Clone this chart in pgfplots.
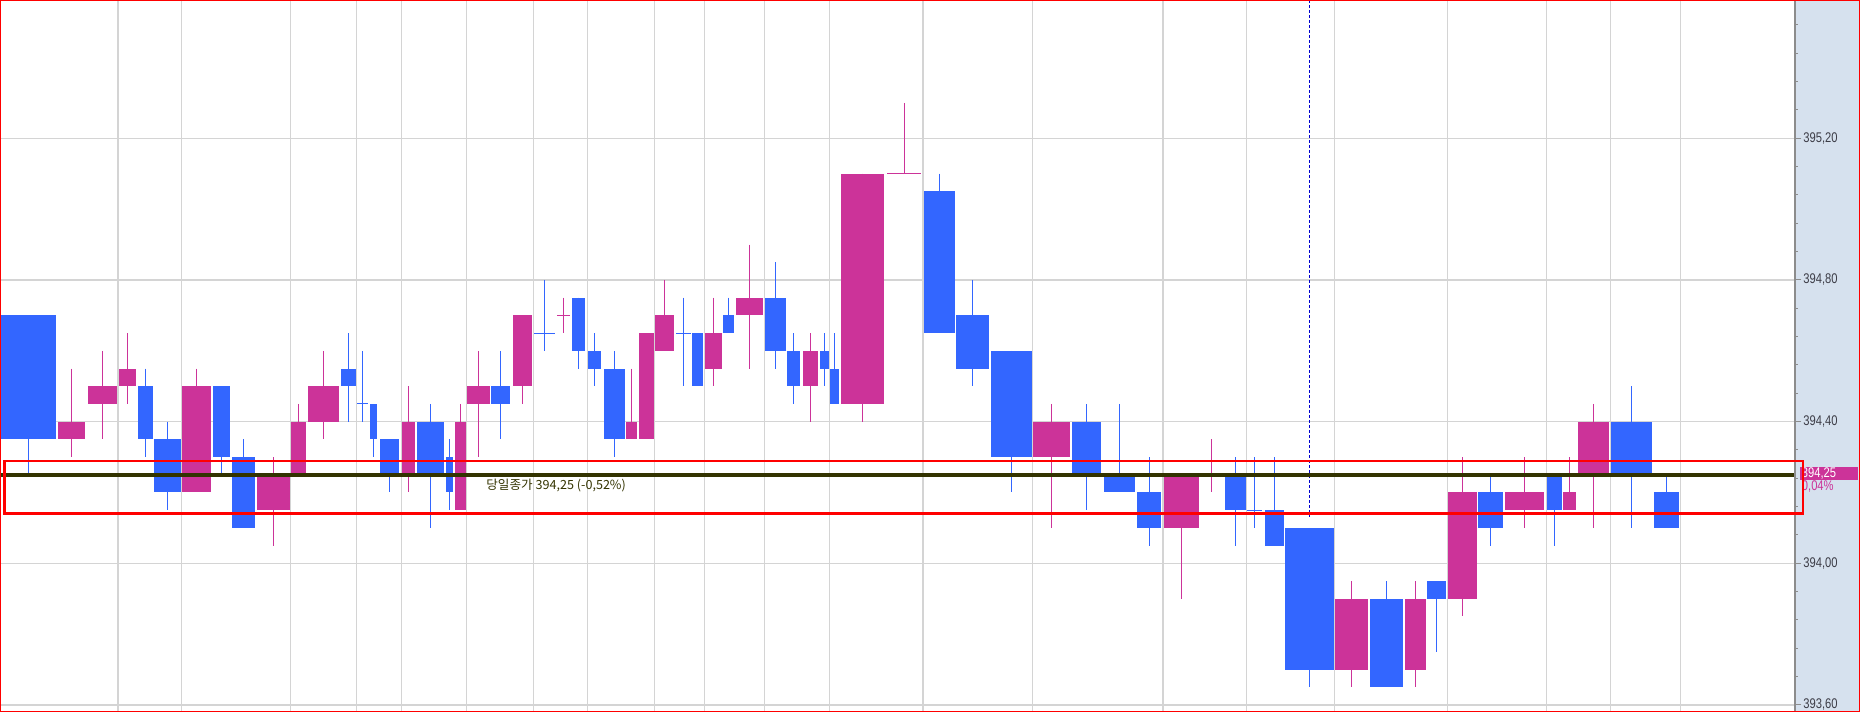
\documentclass[border=0pt]{standalone}
\usepackage{pgfplots}
\pgfplotsset{compat=1.18}
\usepackage{fontspec}
\setmainfont{Liberation Sans}
\newfontfamily\ticknarrow[FakeStretch=0.8]{Liberation Sans}
\newfontfamily\kr{Noto Sans CJK KR}
\definecolor{cblue}{HTML}{3366FF}
\definecolor{cmag}{HTML}{CC3399}
\definecolor{gridc}{HTML}{D4D4D4}
\definecolor{panel}{HTML}{D6E1EE}
\definecolor{olive}{HTML}{333300}
\definecolor{tickc}{HTML}{8C8C8C}
\definecolor{labc}{HTML}{3C3C46}
\definecolor{dotblue}{HTML}{0000CC}

% xl xr open close high low color
\newcommand\candle[7]{%
  \pgfmathsetmacro\candlexm{(#1+#2)/2}%
  \edef\candletmp{\noexpand\addplot[draw=#7, line width=0.5pt, forget plot] coordinates {(\candlexm,#5) (\candlexm,#6)};}\candletmp
  \addplot[fill=#7, draw=none, forget plot] coordinates {(#1,#3) (#2,#3) (#2,#4) (#1,#4)};
}
% xl xr price high low color
\newcommand\doji[6]{%
  \pgfmathsetmacro\candlexm{(#1+#2)/2}%
  \edef\candletmp{\noexpand\addplot[draw=#6, line width=0.5pt, forget plot] coordinates {(\candlexm,#4) (\candlexm,#5)};}\candletmp
  \addplot[draw=#6, line width=0.5pt, forget plot] coordinates {(#1,#3) (#2,#3)};
}

\begin{document}
\begin{tikzpicture}
\fill[panel] (897.5pt,0pt) rectangle (930pt,356pt);
\begin{axis}[
  at={(0,0)}, anchor=south west,
  scale only axis, width=897.5pt, height=356pt,
  xmin=0, xmax=1795, ymin=393.5802, ymax=395.5905,
  axis y line*=right,
  axis x line*=bottom,
  x axis line style={draw=none},
  y axis line style={tickc, line width=0.6pt},
  clip=false,
  xtick={118,181.3,290.3,356.7,401.3,466.3,533.3,587.3,654.3,704.3,764.3,829.3,923,1032.6,1163,1246.7,1334.3,1447.3,1546.3,1610.3,1680.3},
  xticklabels={}, xmajorticks=false,
  xmajorgrids, ymajorgrids,
  major grid style={gridc, line width=0.6pt},
  ytick={393.6,394.0,394.4,394.8,395.2},
  yticklabels={{393,60},{394,00},{394,40},{394,80},{395,20}},
  minor ytick={393.68,393.76,393.84,393.92,394.08,394.16,394.24,394.32,394.48,394.56,394.64,394.72,394.88,394.96,395.04,395.12,395.28,395.36,395.44,395.52},
  ytick align=outside,
  major tick length=3.2pt, minor tick length=1.4pt,
  tick style={tickc, line width=0.5pt},
  yticklabel style={font=\ticknarrow\fontsize{7}{8}\selectfont, text=labc, inner sep=0pt, anchor=west, xshift=0.8pt},
]
\candle{0}{56}{394.70}{394.35}{394.70}{394.25}{cblue}
\candle{58}{85}{394.35}{394.40}{394.55}{394.30}{cmag}
\candle{88}{117}{394.45}{394.50}{394.60}{394.35}{cmag}
\candle{119}{136}{394.50}{394.55}{394.65}{394.45}{cmag}
\candle{138}{153}{394.50}{394.35}{394.55}{394.30}{cblue}
\candle{154}{181}{394.35}{394.20}{394.40}{394.15}{cblue}
\candle{182}{211}{394.20}{394.50}{394.55}{394.20}{cmag}
\candle{213}{230}{394.50}{394.30}{394.50}{394.25}{cblue}
\candle{232}{255}{394.30}{394.10}{394.35}{394.10}{cblue}
\candle{257}{290}{394.15}{394.25}{394.30}{394.05}{cmag}
\candle{291}{306}{394.25}{394.40}{394.45}{394.25}{cmag}
\candle{308}{339}{394.40}{394.50}{394.60}{394.35}{cmag}
\candle{341}{356}{394.55}{394.50}{394.65}{394.40}{cblue}
\doji{357}{368}{394.45}{394.60}{394.40}{cblue}
\candle{370}{377}{394.45}{394.35}{394.45}{394.30}{cblue}
\candle{380}{399}{394.35}{394.25}{394.35}{394.20}{cblue}
\candle{402}{415}{394.25}{394.40}{394.50}{394.20}{cmag}
\candle{417}{444}{394.40}{394.25}{394.45}{394.10}{cblue}
\candle{446}{453}{394.30}{394.20}{394.35}{394.15}{cblue}
\candle{455}{466}{394.15}{394.40}{394.45}{394.15}{cmag}
\candle{467}{490}{394.45}{394.50}{394.60}{394.30}{cmag}
\candle{491}{510}{394.50}{394.45}{394.60}{394.35}{cblue}
\candle{513}{532}{394.50}{394.70}{394.70}{394.45}{cmag}
\doji{534}{555}{394.65}{394.80}{394.60}{cblue}
\doji{557}{570}{394.70}{394.75}{394.65}{cmag}
\candle{572}{585}{394.75}{394.60}{394.75}{394.55}{cblue}
\candle{588}{601}{394.60}{394.55}{394.65}{394.50}{cblue}
\candle{604}{625}{394.55}{394.35}{394.60}{394.30}{cblue}
\candle{626}{637}{394.35}{394.40}{394.55}{394.35}{cmag}
\candle{639}{654}{394.35}{394.65}{394.65}{394.35}{cmag}
\candle{655}{674}{394.60}{394.70}{394.80}{394.60}{cmag}
\doji{676}{691}{394.65}{394.75}{394.50}{cblue}
\candle{692}{703}{394.65}{394.50}{394.65}{394.50}{cblue}
\candle{705}{722}{394.55}{394.65}{394.75}{394.50}{cmag}
\candle{723}{734}{394.70}{394.65}{394.75}{394.65}{cblue}
\candle{736}{763}{394.70}{394.75}{394.90}{394.55}{cmag}
\candle{765}{786}{394.75}{394.60}{394.85}{394.55}{cblue}
\candle{787}{800}{394.60}{394.50}{394.65}{394.45}{cblue}
\candle{803}{818}{394.50}{394.60}{394.65}{394.40}{cmag}
\candle{820}{829}{394.60}{394.55}{394.65}{394.50}{cblue}
\candle{830}{839}{394.55}{394.45}{394.65}{394.45}{cblue}
\candle{841}{884}{394.45}{395.10}{395.10}{394.40}{cmag}
\doji{887}{921}{395.10}{395.30}{395.10}{cmag}
\candle{924}{955}{395.05}{394.65}{395.10}{394.65}{cblue}
\candle{956}{989}{394.70}{394.55}{394.80}{394.50}{cblue}
\candle{991}{1032}{394.60}{394.30}{394.60}{394.20}{cblue}
\candle{1033}{1070}{394.30}{394.40}{394.45}{394.10}{cmag}
\candle{1072}{1101}{394.40}{394.25}{394.45}{394.15}{cblue}
\candle{1104}{1135}{394.25}{394.20}{394.45}{394.20}{cblue}
\candle{1137}{1161}{394.20}{394.10}{394.30}{394.05}{cblue}
\candle{1164}{1199}{394.10}{394.25}{394.25}{393.90}{cmag}
\doji{1204}{1218}{394.25}{394.35}{394.20}{cmag}
\candle{1225}{1246}{394.25}{394.15}{394.30}{394.05}{cblue}
\doji{1247}{1262}{394.15}{394.30}{394.10}{cblue}
\candle{1265}{1284}{394.15}{394.05}{394.30}{394.05}{cblue}
\candle{1285}{1334}{394.10}{393.70}{394.10}{393.65}{cblue}
\candle{1335}{1368}{393.70}{393.90}{393.95}{393.65}{cmag}
\candle{1370}{1403}{393.90}{393.65}{393.95}{393.65}{cblue}
\candle{1405}{1426}{393.70}{393.90}{393.95}{393.65}{cmag}
\candle{1427}{1446}{393.95}{393.90}{393.95}{393.75}{cblue}
\candle{1448}{1477}{393.90}{394.20}{394.30}{393.85}{cmag}
\candle{1478}{1503}{394.20}{394.10}{394.25}{394.05}{cblue}
\candle{1505}{1544}{394.15}{394.20}{394.30}{394.10}{cmag}
\candle{1547}{1562}{394.25}{394.15}{394.25}{394.05}{cblue}
\candle{1563}{1576}{394.15}{394.20}{394.30}{394.15}{cmag}
\candle{1578}{1609}{394.25}{394.40}{394.45}{394.10}{cmag}
\candle{1611}{1652}{394.40}{394.25}{394.50}{394.10}{cblue}
\candle{1654}{1679}{394.20}{394.10}{394.25}{394.10}{cblue}

\addplot[dotblue, line width=0.5pt, dash pattern=on 1.5pt off 1pt, forget plot] coordinates {(1309.3,395.5905) (1309.3,394.131)};
\addplot[olive, line width=2pt, forget plot] coordinates {(0,394.25) (1794,394.25)};

\fill[cmag] (axis cs:1800,394.2727) rectangle (axis cs:1858.3,394.2352);
\node[anchor=west, inner sep=0pt, font=\ticknarrow\fontsize{7}{8}\selectfont, text=white] at (axis cs:1801.5,394.254) {394,25};
\node[anchor=west, inner sep=0pt, font=\ticknarrow\fontsize{7}{8}\selectfont, text=cmag] at (axis cs:1801.5,394.217) {0,04\%};

\draw[red, line width=1.35pt] (axis cs:4.5,394.2888) rectangle (axis cs:1803,394.1406);
\node[anchor=base west, inner sep=0pt, font=\kr\fontsize{6.3}{7}\selectfont, text=olive] at (axis cs:486,394.207) {당일종가 394,25 (-0,52\%)};
\end{axis}
\pgfresetboundingbox
\path[use as bounding box] (0,0) rectangle (930pt,356pt);
\draw[red, line width=0.5pt] (0.25pt,0.25pt) rectangle (929.75pt,355.75pt);
\end{tikzpicture}
\end{document}
